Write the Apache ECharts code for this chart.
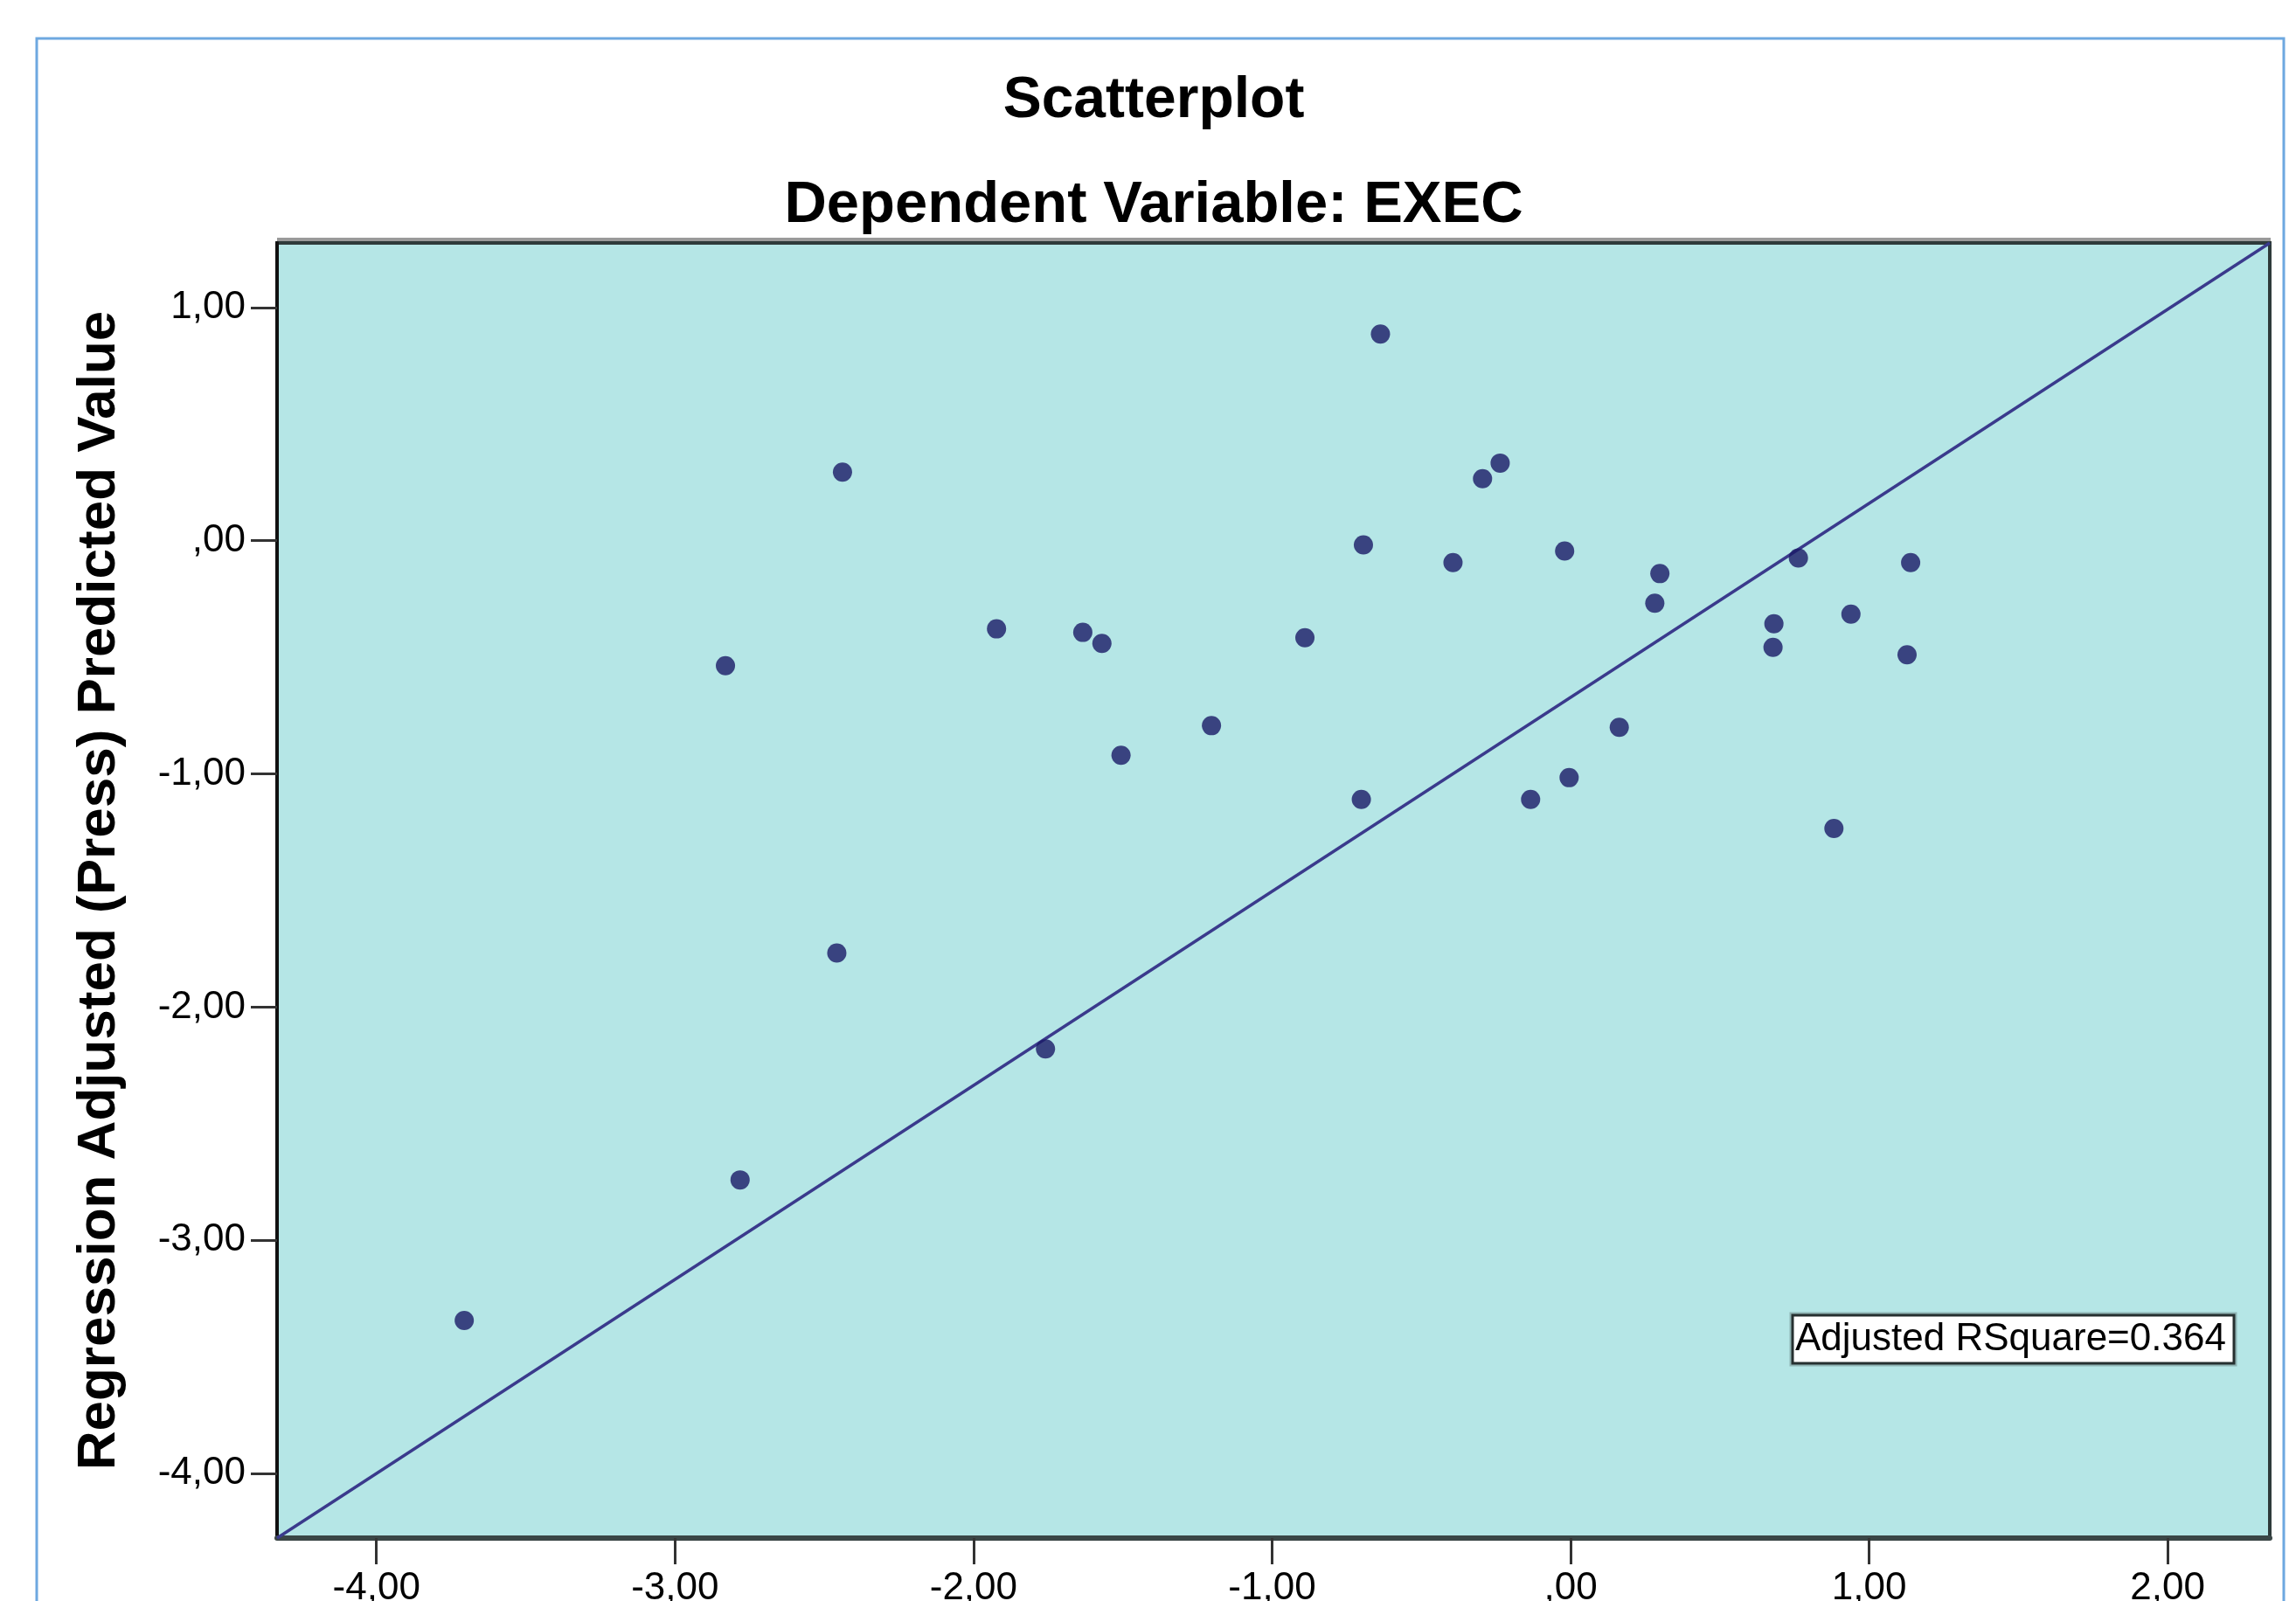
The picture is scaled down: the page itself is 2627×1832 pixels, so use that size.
<!DOCTYPE html>
<html>
<head>
<meta charset="utf-8">
<script src="https://cdn.jsdelivr.net/npm/echarts@6/dist/echarts.min.js"></script>
<style>
  html, body { margin: 0; padding: 0; background: #ffffff; }
  #chart { width: 2627px; height: 1832px; }
</style>
</head>
<body>
<div id="chart"></div>
<script>
// ---- Data ----
const xValues = [-3.706, -2.831, -2.782, -2.439, -2.458, -1.923, -1.759, -1.634, -1.570, -1.506,
                 -1.203, -0.890, -0.694, -0.701, -0.637, -0.394, -0.295, -0.236, -0.134, -0.020,
                 -0.005, 0.163, 0.282, 0.299, 0.681, 0.678, 0.763, 0.882, 0.939, 1.127, 1.139];
const yValues = [-3.344, -0.536, -2.741, 0.294, -1.768, -0.378, -2.179, -0.393, -0.440, -0.920,
                 -0.793, -0.416, -0.018, -1.109, 0.886, -0.094, 0.266, 0.333, -1.109, -0.044,
                 -1.016, -0.800, -0.268, -0.141, -0.356, -0.457, -0.074, -1.234, -0.315, -0.489, -0.094];
// reference (fit) line end points
const lineX = [-4.333, 2.342];
const lineY = [-4.277, 1.277];
// axis ticks and labels
const xTicks = [-4, -3, -2, -1, 0, 1, 2];
const xTickLabels = ['-4,00', '-3,00', '-2,00', '-1,00', ',00', '1,00', '2,00'];
const yTicks = [1, 0, -1, -2, -3, -4];
const yTickLabels = ['1,00', ',00', '-1,00', '-2,00', '-3,00', '-4,00'];
const xRange = [-4.333, 2.342];
const yRange = [-4.277, 1.277];
const titleText = 'Scatterplot';
const subtitleText = 'Dependent Variable: EXEC';
const yAxisName = 'Regression Adjusted (Press) Predicted Value';
const annotationText = 'Adjusted RSquare=0.364';

const FONT = "'Liberation Sans', Arial, sans-serif";

function labelFor(ticks, labels) {
  return function (v) {
    for (let i = 0; i < ticks.length; i++) {
      if (Math.abs(v - ticks[i]) < 1e-9) return labels[i];
    }
    return '';
  };
}

const chart = echarts.init(document.getElementById('chart'), null, { renderer: 'canvas' });

const option = {
  backgroundColor: '#ffffff',
  animation: false,
  title: [
    {
      text: titleText,
      left: 1320, top: 83, textAlign: 'center', padding: 0,
      textStyle: { fontFamily: FONT, fontWeight: 'bold', fontSize: 66, color: '#000' }
    },
    {
      text: subtitleText,
      left: 1320, top: 202, textAlign: 'center', padding: 0,
      textStyle: { fontFamily: FONT, fontWeight: 'bold', fontSize: 67, color: '#000' }
    }
  ],
  grid: {
    left: 317, right: 30, top: 278, bottom: 72,
    outerBoundsMode: 'none',
    show: true,
    backgroundColor: '#b5e6e6',
    borderColor: '#2e3a3a',
    borderWidth: 4,
    containLabel: false
  },
  xAxis: {
    type: 'value',
    min: xRange[0], max: xRange[1],
    splitLine: { show: false },
    axisLine: { show: true, onZero: false, lineStyle: { color: '#3a4646', width: 6 } },
    axisTick: {
      show: true, length: 30, inside: false, customValues: xTicks,
      lineStyle: { color: '#333', width: 3 }
    },
    axisLabel: {
      show: true, customValues: xTicks, margin: 36,
      formatter: labelFor(xTicks, xTickLabels),
      fontFamily: FONT, fontSize: 44, color: '#000'
    }
  },
  yAxis: {
    type: 'value',
    min: yRange[0], max: yRange[1],
    splitLine: { show: false },
    axisLine: { show: true, onZero: false, lineStyle: { color: '#111', width: 4 } },
    name: yAxisName,
    nameLocation: 'middle',
    nameRotate: 90,
    nameGap: 172,
    nameTextStyle: { fontFamily: FONT, fontWeight: 'bold', fontSize: 62, color: '#000' },
    axisTick: {
      show: true, length: 30, inside: false, customValues: yTicks,
      lineStyle: { color: '#333', width: 3 }
    },
    axisLabel: {
      show: true, customValues: yTicks, margin: 36,
      formatter: labelFor(yTicks, yTickLabels),
      fontFamily: FONT, fontSize: 44, color: '#000'
    }
  },
  series: [
    {
      type: 'line',
      data: lineX.map((x, i) => [x, lineY[i]]),
      showSymbol: false,
      symbol: 'none',
      lineStyle: { color: '#3a3a8c', width: 3.5 },
      silent: true,
      z: 2
    },
    {
      type: 'scatter',
      data: xValues.map((x, i) => [x, yValues[i]]),
      symbol: 'circle',
      symbolSize: 22,
      itemStyle: { color: '#1a1a66' },
      z: 3
    }
  ],
  graphic: [
    {
      type: 'rect',
      shape: { x: 42, y: 44, width: 2571, height: 1900 },
      style: { fill: 'none', stroke: '#6ea8e0', lineWidth: 3 },
      silent: true,
      z: 0
    },
    {
      type: 'rect',
      shape: { x: 317, y: 272, width: 2281, height: 4 },
      style: { fill: '#9a9a9a' },
      silent: true,
      z: 0
    },
    {
      type: 'group',
      z: 100,
      children: [
        {
          type: 'rect',
          shape: { x: 2049, y: 1503, width: 509, height: 59 },
          style: { fill: 'none', stroke: '#8fb4b4', lineWidth: 3 }
        },
        {
          type: 'rect',
          shape: { x: 2051, y: 1505, width: 505, height: 55 },
          style: { fill: '#ffffff', stroke: '#263030', lineWidth: 3 }
        },
        {
          type: 'text',
          style: {
            x: 2054, y: 1533,
            text: annotationText,
            fontFamily: FONT, fontSize: 44, fill: '#000',
            textAlign: 'left', textVerticalAlign: 'middle'
          }
        }
      ]
    }
  ]
};

chart.setOption(option);
</script>
</body>
</html>
